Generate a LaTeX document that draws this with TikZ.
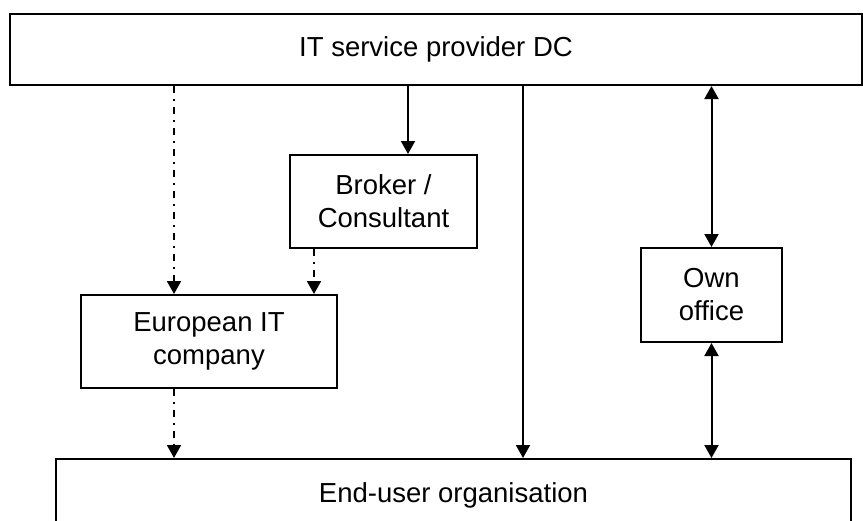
\documentclass[tikz,border=0pt]{standalone}
\usepackage{fontspec}
\setmainfont{Liberation Sans}
\usetikzlibrary{arrows.meta}
\begin{document}
\begin{tikzpicture}[x=1pt,y=-1pt,
  box/.style={draw, line width=2pt, rectangle, inner sep=0pt, align=center,
    font=\fontsize{27.5}{33}\selectfont},
  conn/.style={line width=2pt, -{Triangle[length=13pt,width=14pt]}},
  both/.style={line width=2pt, {Triangle[length=13pt,width=14pt]}-{Triangle[length=13pt,width=14pt]}},
  dd/.style={dash pattern=on 7pt off 6pt on 2pt off 6pt}]
\useasboundingbox (0,0) rectangle (863,520);
\clip (0,0) rectangle (863,520);
\node[box, minimum width=852pt, minimum height=71pt] (top) at (436,49.5) {IT service provider DC};
\node[box, minimum width=795pt, minimum height=72pt] (end) at (453.5,495) {End-user organisation};
\node[box, minimum width=187pt, minimum height=93pt] (broker) at (383.5,201.5) {Broker /\\Consultant};
\node[box, minimum width=256pt, minimum height=93pt] (eu) at (209,341.5) {European IT\\company};
\node[box, minimum width=141pt, minimum height=94pt] (own) at (711.5,295) {Own\\office};
\coordinate (a1) at (174,0);
\coordinate (a2) at (314,0);
\coordinate (a3) at (408,0);
\coordinate (a4) at (523,0);
\draw[conn, dd] (top.south -| a1) -- (eu.north -| a1);
\draw[conn, dd] (eu.south -| a1) -- (end.north -| a1);
\draw[conn] (top.south -| a3) -- (broker.north -| a3);
\draw[conn, dd] (broker.south -| a2) -- (eu.north -| a2);
\draw[conn] (top.south -| a4) -- (end.north -| a4);
\draw[both] (top.south -| own.north) -- (own.north);
\draw[both] (own.south) -- (end.north -| own.south);
\end{tikzpicture}
\end{document}
